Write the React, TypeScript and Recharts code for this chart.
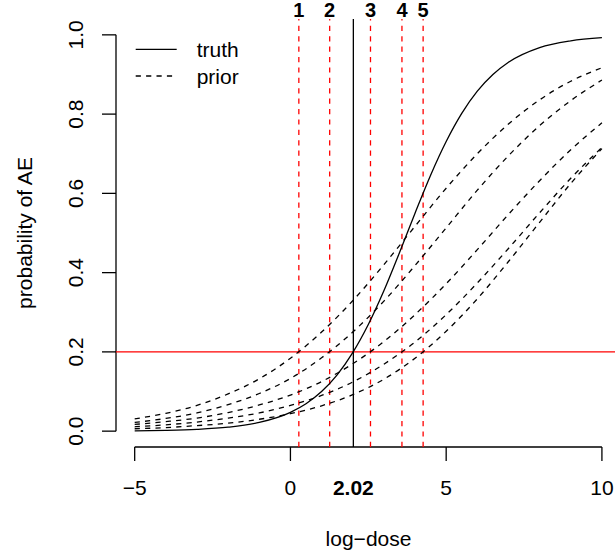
import { LineChart, Line, XAxis, YAxis, ReferenceLine } from 'recharts'

// log-dose grid the curves were read at
const DOSES = [-5, -4, -3, -2, -1, 0, 1, 2, 3, 4, 5, 6, 7, 8, 9, 10]
const TRUTH_DOSES = [-5, -4, -3, -2, -1, 0, 0.5, 1, 1.5, 2, 2.5, 3, 3.5, 4, 4.5, 5, 5.5, 6, 6.5, 7, 8, 9, 10]

const TRUTH = [0.0009, 0.002, 0.0045, 0.01, 0.0219, 0.0474, 0.0691, 0.0998, 0.142, 0.198, 0.269, 0.354, 0.45, 0.55, 0.646, 0.731, 0.802, 0.858, 0.9, 0.931, 0.968, 0.985, 0.993]
const PRIOR_1 = [0.031, 0.045, 0.065, 0.094, 0.132, 0.184, 0.25, 0.329, 0.42, 0.517, 0.613, 0.7, 0.775, 0.836, 0.883, 0.917]
const PRIOR_2 = [0.022, 0.032, 0.046, 0.067, 0.095, 0.133, 0.185, 0.25, 0.328, 0.418, 0.513, 0.608, 0.695, 0.771, 0.834, 0.886]
const PRIOR_3 = [0.017, 0.024, 0.033, 0.047, 0.066, 0.091, 0.125, 0.17, 0.226, 0.294, 0.372, 0.458, 0.547, 0.632, 0.71, 0.778]
const PRIOR_4 = [0.011, 0.016, 0.023, 0.033, 0.046, 0.065, 0.09, 0.124, 0.169, 0.225, 0.294, 0.374, 0.461, 0.551, 0.638, 0.716]
const PRIOR_5 = [0.006, 0.009, 0.014, 0.02, 0.03, 0.044, 0.064, 0.092, 0.131, 0.184, 0.252, 0.334, 0.428, 0.527, 0.625, 0.713]

const PRIORS = [PRIOR_1, PRIOR_2, PRIOR_3, PRIOR_4, PRIOR_5]
const PRIOR_MTD = [0.27, 1.26, 2.57, 3.58, 4.26]
const PRIOR_LABELS = ['1', '2', '3', '4', '5']
const TRUE_MTD = 2.02
const TARGET = 0.2

const X_TICKS = [-5, 0, 2.02, 5, 10]
const Y_TICKS = [0, 0.2, 0.4, 0.6, 0.8, 1]

const W = 615
const H = 559
const TOP = 19
const LEFT = 116
const AXIS_Y = 447
const FONT = '"Liberation Sans", Arial, Helvetica, sans-serif'
const LW = 1.3
const DASH = '5.2 5.2'

const toPts = (xs: number[], ys: number[]) => xs.map((x, i) => ({ x, y: ys[i] }))

function XTick(props: any) {
  const { x, payload } = props
  const v = payload.value
  const bold = v === TRUE_MTD
  const txt = bold ? v.toFixed(2) : String(v).replace('-', '\u2212')
  return (
    <g>
      {!bold && <line x1={x} x2={x} y1={AXIS_Y} y2={AXIS_Y + 14} stroke="#000" strokeWidth={LW} />}
      <text x={x} y={495} textAnchor="middle" fontSize={21} fontFamily={FONT} fontWeight={bold ? 'bold' : 'normal'} fill="#000">{txt}</text>
    </g>
  )
}

function YTick(props: any) {
  const { y, payload } = props
  return (
    <g>
      <line x1={LEFT - 14} x2={LEFT} y1={y} y2={y} stroke="#000" strokeWidth={LW} />
      <text x={83.3} y={y} transform={`rotate(-90 83.3 ${y})`} textAnchor="middle" fontSize={21} fontFamily={FONT} fill="#000">
        {payload.value.toFixed(1)}
      </text>
    </g>
  )
}

function TopLabel(props: any) {
  const { viewBox, text } = props
  return (
    <text x={viewBox.x} y={17} textAnchor="middle" fontSize={20} fontWeight="bold" fontFamily={FONT} fill="#000">{text}</text>
  )
}

export default function App() {
  return (
    <div style={{ position: 'absolute', left: 0, top: 0, width: W, height: H, background: '#fff' }}>
      <LineChart width={W} height={H} margin={{ top: TOP, right: 0, bottom: 0, left: 0 }}>
        <XAxis type="number" dataKey="x" domain={[-5.6, 10.42]} allowDataOverflow ticks={X_TICKS} interval={0}
          axisLine={false} tickLine={false} tick={<XTick />} height={H - AXIS_Y} />
        <YAxis type="number" dataKey="y" domain={[-0.04, 1.04]} allowDataOverflow ticks={Y_TICKS} interval={0}
          axisLine={false} tickLine={false} tick={<YTick />} width={LEFT} />
        <ReferenceLine segment={[{ x: -5, y: -0.04 }, { x: 10, y: -0.04 }]} stroke="#000" strokeWidth={LW} ifOverflow="visible" />
        <ReferenceLine segment={[{ x: -5.6, y: 0 }, { x: -5.6, y: 1 }]} stroke="#000" strokeWidth={LW} ifOverflow="visible" />
        <ReferenceLine y={TARGET} stroke="#ff0000" strokeWidth={LW} />
        {PRIOR_MTD.map((m, i) => (
          <ReferenceLine key={i} x={m} stroke="#ff0000" strokeWidth={LW} strokeDasharray={DASH}
            label={<TopLabel text={PRIOR_LABELS[i]} />} />
        ))}
        <ReferenceLine x={TRUE_MTD} stroke="#000" strokeWidth={LW} />
        {PRIORS.map((p, i) => (
          <Line key={i} data={toPts(DOSES, p)} dataKey="y" type="monotone" stroke="#000" strokeWidth={LW}
            strokeDasharray={DASH} dot={false} activeDot={false} isAnimationActive={false} />
        ))}
        <Line data={toPts(TRUTH_DOSES, TRUTH)} dataKey="y" type="monotone" stroke="#000" strokeWidth={LW}
          dot={false} activeDot={false} isAnimationActive={false} />
      </LineChart>
      <svg width={W} height={H} style={{ position: 'absolute', left: 0, top: 0, pointerEvents: 'none' }}>
        <line x1={135.7} x2={176.7} y1={49.3} y2={49.3} stroke="#000" strokeWidth={LW} />
        <line x1={135.7} x2={176.7} y1={76} y2={76} stroke="#000" strokeWidth={LW} strokeDasharray={DASH} />
        <text x={196.7} y={56.8} fontSize={21} fontFamily={FONT} fill="#000">truth</text>
        <text x={196.7} y={83.5} fontSize={21} fontFamily={FONT} fill="#000">prior</text>
        <text x={368.5} y={546} textAnchor="middle" fontSize={21} fontFamily={FONT} fill="#000">log{'\u2212'}dose</text>
        <text x={32} y={233} transform="rotate(-90 32 233)" textAnchor="middle" fontSize={21} fontFamily={FONT} fill="#000">probability of AE</text>
      </svg>
    </div>
  )
}
